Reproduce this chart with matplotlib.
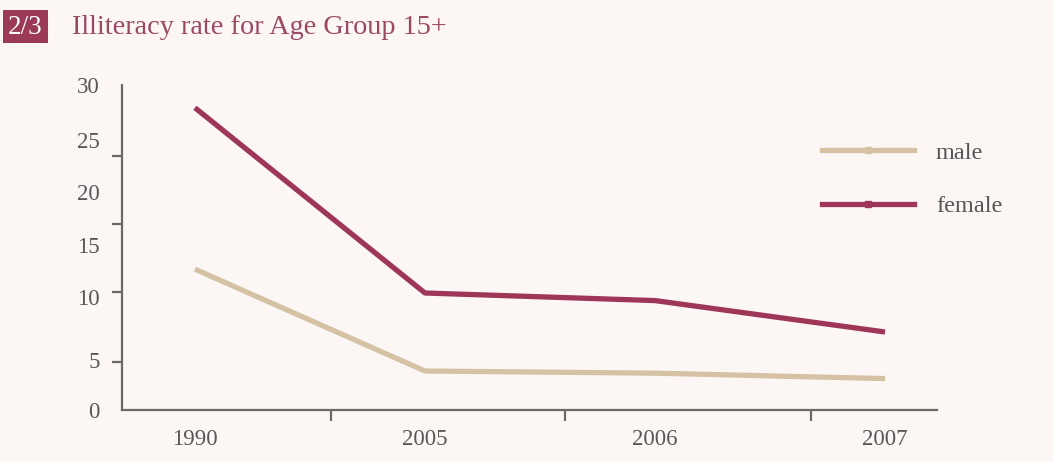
import matplotlib
matplotlib.use("Agg")
import matplotlib.pyplot as plt
from matplotlib.patches import Rectangle
from matplotlib.lines import Line2D

years = ["1990", "2005", "2006", "2007"]
male = [13.0, 3.6, 3.4, 2.9]
female = [27.9, 10.8, 10.1, 7.2]
y_labels = ["0", "5", "10", "15", "20", "25", "30"]
y_label_pos = [0, 4.6, 10.4, 15.2, 20.1, 24.9, 30]
y_tick_marks = [4.43, 10.89, 17.17, 23.45, 30]
x_tick_marks = [0.59, 1.61, 2.68]

BG = "#fcf7f5"
FEMALE = "#9e3659"
MALE = "#d5c2a4"
AXIS = "#6e6868"
TXT = "#5a5656"
TITLE = "#9b4863"

plt.rcParams["font.family"] = ["Liberation Serif", "DejaVu Serif"]

fig = plt.figure(figsize=(10.53, 4.62), dpi=100, facecolor=BG)
ax = fig.add_axes([122/1053, 1 - 410/462, (937-122)/1053, (410-85)/462])
ax.set_facecolor(BG)

x = list(range(len(years)))
ax.plot(x, male, color=MALE, lw=3.8, solid_capstyle="butt", label="male")
ax.plot(x, female, color=FEMALE, lw=3.8, solid_capstyle="butt", label="female")

ax.set_xlim(-0.317, 3.226)
ax.set_ylim(0, 30)

for s in ["top", "right"]:
    ax.spines[s].set_visible(False)
for s in ["left", "bottom"]:
    ax.spines[s].set_color(AXIS)
    ax.spines[s].set_linewidth(1.6)

ax.set_xticks(x)
ax.set_xticklabels(years)
ax.set_xticks(x_tick_marks, minor=True)
ax.tick_params(axis="x", which="major", length=0, pad=14, labelsize=16.5, labelcolor=TXT)
ax.tick_params(axis="x", which="minor", length=8, width=1.6, color=AXIS, direction="out")

ax.set_yticks(y_label_pos)
ax.set_yticklabels(y_labels)
ax.set_yticks(y_tick_marks, minor=True)
ax.tick_params(axis="y", which="major", length=0, pad=16, labelsize=16.5, labelcolor=TXT)
ax.tick_params(axis="y", which="minor", length=7, width=1.6, color=AXIS, direction="out")

handles = [Line2D([0], [0], color=MALE, lw=3.8, marker="s", markersize=4.5),
           Line2D([0], [0], color=FEMALE, lw=3.8, marker="s", markersize=4.5)]
leg = ax.legend(handles, ["male", "female"], loc="upper left",
                bbox_to_anchor=((812-122)/815, 1 - (132-85)/325),
                frameon=False, fontsize=17.5, handlelength=3.8, handletextpad=0.9,
                labelspacing=1.3, borderaxespad=0)
for t in leg.get_texts():
    t.set_color(TXT)

fig.patches.append(Rectangle((3/1053, 1 - 43/462), 45/1053, 33/462,
                             transform=fig.transFigure, facecolor="#9a3a56",
                             edgecolor="none"))
fig.text(25.5/1053, 1 - 27/462, "2/3", color="white", fontsize=19.5,
         ha="center", va="center")
fig.text(72/1053, 1 - 34/462, "Illiteracy rate for Age Group 15+", color=TITLE,
         fontsize=20.3, ha="left", va="baseline")

fig.savefig("out.png", dpi=100, facecolor=BG)
